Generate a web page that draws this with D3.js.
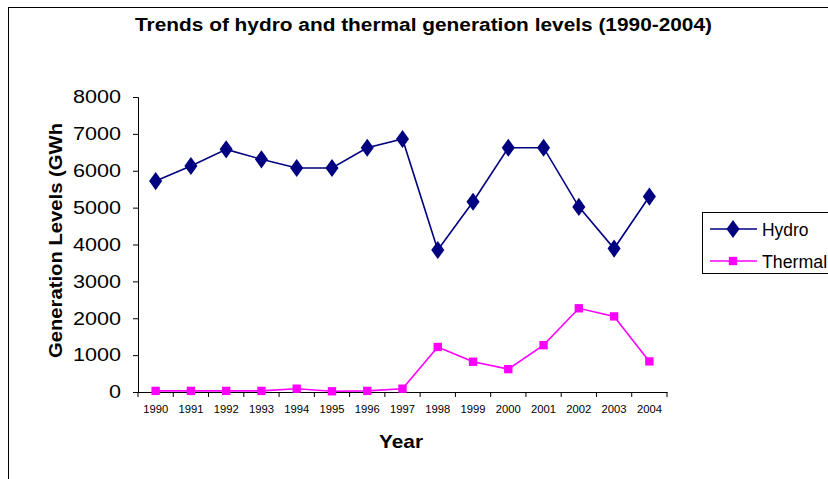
<!DOCTYPE html>
<html><head><meta charset="utf-8">
<script src="https://cdn.jsdelivr.net/npm/d3@7"></script>
<style>body{margin:0;background:#fff}svg{display:block}</style>
</head><body>
<svg id="c" width="828" height="479"></svg>
<script>
const years = ["1990","1991","1992","1993","1994","1995","1996","1997","1998","1999","2000","2001","2002","2003","2004"];
const hydro = [5720,6130,6580,6310,6075,6075,6625,6860,3850,5160,6625,6625,5020,3890,5300];
const thermal = [30,30,30,30,90,20,30,90,1220,820,620,1270,2270,2050,830];
const yTicks = [0,1000,2000,3000,4000,5000,6000,7000,8000];
const seriesNames = ["Hydro","Thermal"];
const seriesColors = ["#000080","#FF00FF"];

const svg = d3.select("#c");
const font = "Arial, 'Liberation Sans', sans-serif";
svg.append("rect").attr("x",8.5).attr("y",7.5).attr("width",840).attr("height",500)
  .attr("fill","#fff").attr("stroke","#000").attr("stroke-width",1);

const x0 = 138, x1 = 667, yTop = 97, yBot = 392;
const x = d3.scaleBand().domain(years).range([x0,x1]);
const y = d3.scaleLinear().domain([0,8000]).range([yBot,yTop]);

svg.append("text").attr("x",135).attr("y",31)
  .attr("font-family",font).attr("font-weight","bold").attr("font-size",18)
  .attr("textLength",577).attr("lengthAdjust","spacingAndGlyphs")
  .text("Trends of hydro and thermal generation levels (1990-2004)");

// y axis
const ya = svg.append("g").attr("transform",`translate(${x0},0)`)
  .call(d3.axisLeft(y).tickValues(yTicks).tickSize(5).tickPadding(12).tickFormat(d3.format("d")));
ya.select(".domain").attr("stroke","#000");
ya.selectAll("text").attr("font-family",font).attr("font-size",18).attr("fill","#000")
  .attr("textLength",d=>String(d).length*12).attr("lengthAdjust","spacingAndGlyphs");
// x axis
const xa = svg.append("g").attr("transform",`translate(0,${yBot})`)
  .call(d3.axisBottom(x).tickSizeOuter(0).tickSize(0).tickPadding(14));
xa.select(".domain").attr("stroke","#000");
xa.selectAll("text").attr("font-family",font).attr("font-size",10.5).attr("fill","#000")
  .attr("textLength",25).attr("lengthAdjust","spacingAndGlyphs");
// x ticks at band boundaries
const bounds = years.map(d=>x(d)).concat([x1]);
svg.append("g").selectAll("line").data(bounds).join("line")
  .attr("x1",d=>d).attr("x2",d=>d).attr("y1",yBot).attr("y2",yBot+5).attr("stroke","#000");

svg.append("text").attr("transform","translate(61.5,123) rotate(-90)").attr("text-anchor","end")
  .attr("font-family",font).attr("font-weight","bold").attr("font-size",18.5)
  .attr("textLength",235).attr("lengthAdjust","spacingAndGlyphs")
  .text("Generation Levels (GWh");
svg.append("text").attr("x",379).attr("y",447.5)
  .attr("font-family",font).attr("font-weight","bold").attr("font-size",19)
  .attr("textLength",44).attr("lengthAdjust","spacingAndGlyphs").text("Year");

const cx = d => x(d)+x.bandwidth()/2;
const data = [hydro, thermal];
const line = d3.line().x((d,i)=>cx(years[i])).y(d=>y(d));
const diamond = d3.symbol().type(d3.symbolDiamond).size(95);
const square = d3.symbol().type(d3.symbolSquare).size(70);
const syms = [diamond, square];
data.forEach((vals,k)=>{
  svg.append("path").datum(vals).attr("d",line).attr("fill","none")
    .attr("stroke",seriesColors[k]).attr("stroke-width",1.6);
  svg.append("g").selectAll("path").data(vals).join("path")
    .attr("d",syms[k]).attr("transform",(d,i)=>`translate(${cx(years[i])},${y(d)})${k===0?" scale(1.25,1)":""}`)
    .attr("fill",seriesColors[k]);
});

// legend
const lg = svg.append("g");
lg.append("rect").attr("x",702.5).attr("y",212.5).attr("width",140).attr("height",61)
  .attr("fill","#fff").attr("stroke","#000");
seriesNames.forEach((n,k)=>{
  const ly = 229 + k*32;
  lg.append("line").attr("x1",710).attr("x2",757).attr("y1",ly).attr("y2",ly)
    .attr("stroke",seriesColors[k]).attr("stroke-width",1.6);
  lg.append("path").attr("d",syms[k]).attr("transform",`translate(733,${ly})${k===0?" scale(1.25,1)":""}`)
    .attr("fill",seriesColors[k]);
  lg.append("text").attr("x",762).attr("y",ly+6.5).attr("font-family",font).attr("font-size",17.5)
    .attr("textLength",n.length*9.3).attr("lengthAdjust","spacingAndGlyphs")
    .text(n);
});
</script>
</body></html>
